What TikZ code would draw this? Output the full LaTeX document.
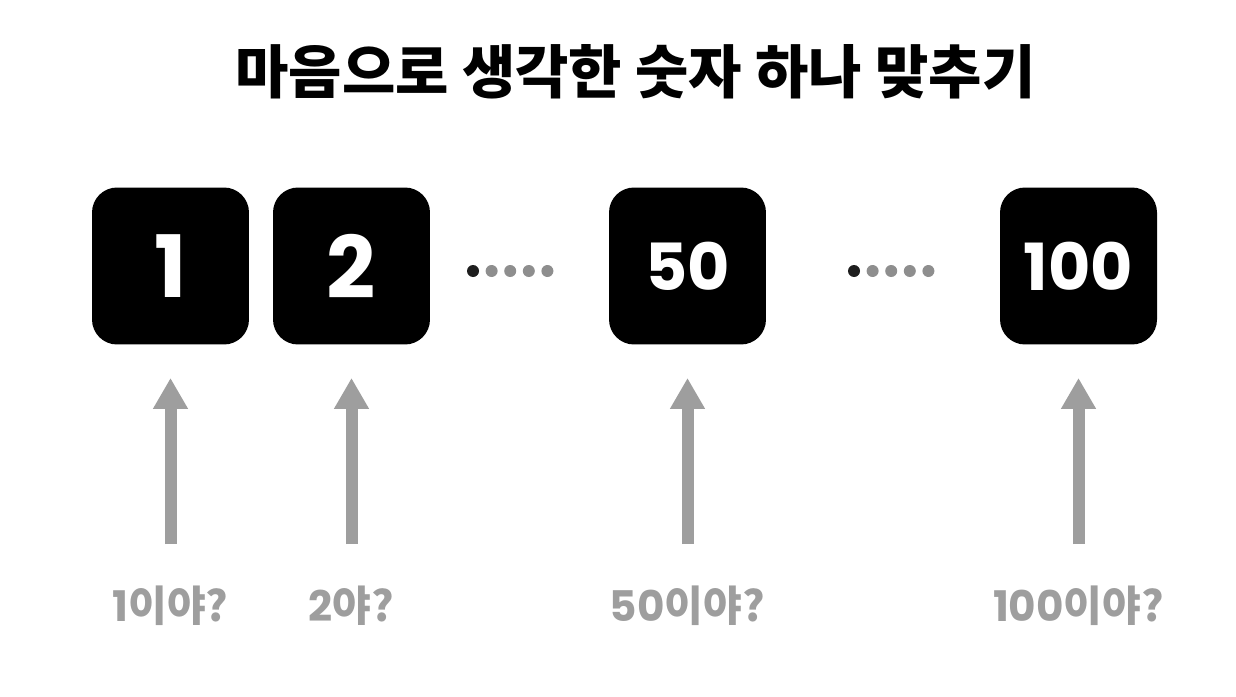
\documentclass[tikz,border=0pt]{standalone}
\usepackage{fontspec}
\newfontfamily\krfont{Noto Sans CJK KR}
\newfontfamily\numfont{Poppins}
\usetikzlibrary{arrows.meta,positioning}

\definecolor{guessgray}{HTML}{9E9E9E}
\definecolor{dotgray}{HTML}{8E8E8E}
\definecolor{dotdark}{HTML}{1E1E1E}

\begin{document}
\begin{tikzpicture}[x=0.02cm, y=-0.02cm,
    numbox/.style={fill=black, rounded corners=0.5cm, minimum size=3.14cm,
                   text=white, font=\numfont\bfseries},
    guess/.style={text=guessgray, inner sep=0pt, font=\krfont\bfseries\fontsize{24}{28}\selectfont},
    guessarrow/.style={-{Triangle[width=0.66cm, length=0.62cm]}, draw=guessgray,
                       line width=0.24cm, shorten <=1.24cm, shorten >=2.24cm}]
    \useasboundingbox (0,0) rectangle (1236,696);

    \node[font=\krfont\bfseries\fontsize{33}{38}\selectfont] (title) at (635.5,72)
        {마음으로 생각한 숫자 하나 맞추기};

    % number boxes
    \node[numbox] (n1)   at (170.5,266)  {\fontsize{49}{54}\selectfont 1};
    \node[numbox] (n2)   at (351.5,266)  {\fontsize{49}{54}\selectfont 2};
    \node[numbox] (n50)  at (687.5,266)  {\fontsize{37}{42}\selectfont 50};
    \node[numbox] (n100) at (1078.5,266) {\fontsize{37}{42}\selectfont 100};

    % dots in between
    \foreach \sx in {473,854} {
        \fill[dotdark] (\sx,271) circle (0.12cm);
        \foreach \k in {1,...,4}
            \fill[dotgray] (\sx+18.6*\k,271) circle (0.12cm);
    }

    % guesses
    \node[guess] (g1)   at (170.5,606)  {{\numfont 1}이야?};
    \node[guess] (g2)   at (351.5,606)  {{\numfont 2}야?};
    \node[guess] (g50)  at (687.5,606)  {{\numfont 50}이야?};
    \node[guess] (g100) at (1078.5,606) {{\numfont 100}이야?};

    \draw[guessarrow] (g1.center)   -- (n1.center);
    \draw[guessarrow] (g2.center)   -- (n2.center);
    \draw[guessarrow] (g50.center)  -- (n50.center);
    \draw[guessarrow] (g100.center) -- (n100.center);
\end{tikzpicture}
\end{document}
